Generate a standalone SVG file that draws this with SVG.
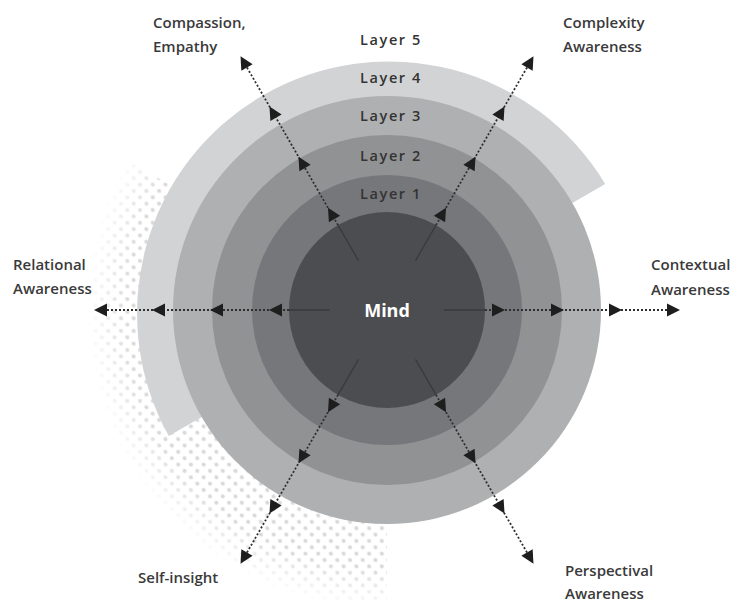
<svg xmlns="http://www.w3.org/2000/svg" width="732" height="602" viewBox="0 0 732 602">
<style>
.lbl{font-family:"Open Sans","Liberation Sans",sans-serif;font-weight:600;font-size:15px;fill:#3a3a3a}
.lay{font-family:"Open Sans","Liberation Sans",sans-serif;font-weight:600;font-size:14.5px;fill:#333;letter-spacing:1.6px;text-anchor:middle}
.mind{font-family:"Open Sans","Liberation Sans",sans-serif;font-weight:700;font-size:18px;fill:#fff;text-anchor:middle}
.dot{stroke:#2e2e2e;stroke-width:1.8;stroke-dasharray:2 2;fill:none}
.solid{stroke:#2a2a2a;stroke-width:1.3;opacity:0.55}
.ah{fill:#1e1e1e}
</style>
<defs>
<pattern id="dots" width="9" height="9" patternUnits="userSpaceOnUse" patternTransform="rotate(45)">
<circle cx="4.5" cy="4.5" r="2.1" fill="#d9d9d9"/>
</pattern>
<radialGradient id="fade" gradientUnits="userSpaceOnUse" cx="387" cy="310" r="300">
<stop offset="0.7" stop-color="#fff"/>
<stop offset="0.86" stop-color="#fff"/>
<stop offset="1" stop-color="#000"/>
</radialGradient>
<mask id="m"><rect width="732" height="602" fill="url(#fade)"/></mask>
<path id="arr" d="M0,0 L-13,-6.5 L-13,6.5 Z"/>
</defs>
<g id="halftone" mask="url(#m)">
<path d="M387,310 L387,610 A300,300 0 0 1 127,160 Z" fill="url(#dots)"/>
</g>
<g id="layer4">
<path d="M168.8,436 A252,252 0 0 1 605.2,184 Z" fill="#d2d3d5"/>
</g>
<g id="layer3"><circle cx="387" cy="310" r="214" fill="#afb0b2"/></g>
<g id="layer2"><circle cx="387" cy="310" r="175" fill="#919294"/></g>
<g id="layer1"><circle cx="387" cy="310" r="135" fill="#76777a"/></g>
<g id="mind-node"><circle cx="387" cy="310" r="98" fill="#4c4d50"/>
<text class="mind" x="387" y="317">Mind</text></g>
<g id="layer-labels">
<text class="lay" x="391" y="45">Layer 5</text>
<text class="lay" x="391" y="83">Layer 4</text>
<text class="lay" x="391" y="121">Layer 3</text>
<text class="lay" x="391" y="161">Layer 2</text>
<text class="lay" x="391" y="199">Layer 1</text>
</g>
<g id="connectors">
<g transform="translate(387,310) rotate(0)"><line class="solid" x1="57" y1="0" x2="98" y2="0"/><line class="dot" x1="98" y1="0" x2="290" y2="0"/><use href="#arr" class="ah" x="118"/><use href="#arr" class="ah" x="177"/><use href="#arr" class="ah" x="235"/><use href="#arr" class="ah" x="293"/></g>
<g transform="translate(387,310) rotate(60)"><line class="solid" x1="57" y1="0" x2="98" y2="0"/><line class="dot" x1="98" y1="0" x2="290" y2="0"/><use href="#arr" class="ah" x="118"/><use href="#arr" class="ah" x="177"/><use href="#arr" class="ah" x="235"/><use href="#arr" class="ah" x="293"/></g>
<g transform="translate(387,310) rotate(120)"><line class="solid" x1="57" y1="0" x2="98" y2="0"/><line class="dot" x1="98" y1="0" x2="290" y2="0"/><use href="#arr" class="ah" x="118"/><use href="#arr" class="ah" x="177"/><use href="#arr" class="ah" x="235"/><use href="#arr" class="ah" x="293"/></g>
<g transform="translate(387,310) rotate(180)"><line class="solid" x1="57" y1="0" x2="98" y2="0"/><line class="dot" x1="98" y1="0" x2="290" y2="0"/><use href="#arr" class="ah" x="118"/><use href="#arr" class="ah" x="177"/><use href="#arr" class="ah" x="235"/><use href="#arr" class="ah" x="293"/></g>
<g transform="translate(387,310) rotate(240)"><line class="solid" x1="57" y1="0" x2="98" y2="0"/><line class="dot" x1="98" y1="0" x2="290" y2="0"/><use href="#arr" class="ah" x="118"/><use href="#arr" class="ah" x="177"/><use href="#arr" class="ah" x="235"/><use href="#arr" class="ah" x="293"/></g>
<g transform="translate(387,310) rotate(300)"><line class="solid" x1="57" y1="0" x2="98" y2="0"/><line class="dot" x1="98" y1="0" x2="290" y2="0"/><use href="#arr" class="ah" x="118"/><use href="#arr" class="ah" x="177"/><use href="#arr" class="ah" x="235"/><use href="#arr" class="ah" x="293"/></g>
</g>
<g id="compassion"><text class="lbl" x="153" y="28">Compassion,</text><text class="lbl" x="153" y="52">Empathy</text></g>
<g id="complexity"><text class="lbl" x="563" y="28">Complexity</text><text class="lbl" x="563" y="52">Awareness</text></g>
<g id="relational"><text class="lbl" x="13" y="270">Relational</text><text class="lbl" x="13" y="294">Awareness</text></g>
<g id="contextual"><text class="lbl" x="651" y="270">Contextual</text><text class="lbl" x="651" y="295">Awareness</text></g>
<g id="self-insight"><text class="lbl" x="138" y="583">Self-insight</text></g>
<g id="perspectival"><text class="lbl" x="565" y="576">Perspectival</text><text class="lbl" x="565" y="599">Awareness</text></g>
</svg>
